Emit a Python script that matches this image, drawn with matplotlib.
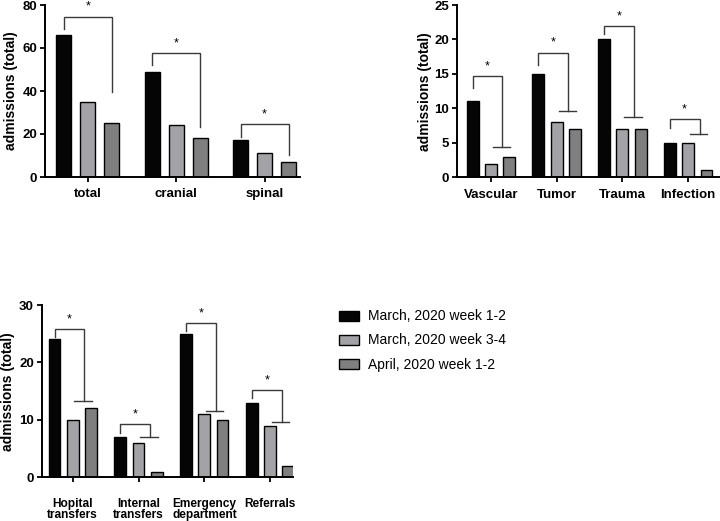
import matplotlib
matplotlib.use("Agg")
import matplotlib.pyplot as plt
import numpy as np
from matplotlib.patches import Patch

plt.rcParams['font.family'] = ['Liberation Sans', 'DejaVu Sans']

series = ["March, 2020 week 1-2", "March, 2020 week 3-4", "April, 2020 week 1-2"]
colors = ["#050505", "#a3a3a7", "#7f7f7f"]

# Panel 1
cats1 = ["total", "cranial", "spinal"]
p1_w12 = [66, 49, 17]
p1_w34 = [35, 24, 11]
p1_apr = [25, 18, 7]
# significance brackets: left-leg end, top level, right-leg end
sig1_left = [69, 52, 18.7]
sig1_top = [74.6, 57.8, 24.5]
sig1_right = [39.5, 23.4, 10.2]

# Panel 2
cats2 = ["Vascular", "Tumor", "Trauma", "Infection"]
p2_w12 = [11, 15, 20, 5]
p2_w34 = [2, 8, 7, 5]
p2_apr = [3, 7, 7, 1]
sig2_left = [12.95, 16.3, 20.75, 7.15]
sig2_top = [14.7, 18.1, 21.95, 8.4]
sig2_right = [4.35, 9.66, 8.7, 6.3]

# Panel 3
cats3 = ["Hopital\ntransfers", "Internal\ntransfers", "Emergency\ndepartment", "Referrals"]
p3_w12 = [24, 7, 25, 13]
p3_w34 = [10, 6, 11, 9]
p3_apr = [12, 1, 10, 2]
sig3_left = [24.5, 7.77, 25.5, 13.86]
sig3_top = [25.8, 9.2, 26.8, 15.2]
sig3_right = [13.3, 6.96, 11.6, 9.68]

W, H = 720, 521
fig = plt.figure(figsize=(W / 100, H / 100), dpi=100)

line_c = "#3a3a3a"


def panel(rect, cats, vals, ylim, yticks, xlim, off, bw, sl, st, sr, tee, label_pad, ylab_x, xfs, ls):
    ax = fig.add_axes(rect)
    x = np.arange(len(cats))
    for i, (v, c) in enumerate(zip(vals, colors)):
        ax.bar(x + (i - 1) * off, v, width=bw, color=c, edgecolor="black", linewidth=1.0, zorder=2)
    ax.set_xlim(*xlim)
    ax.set_ylim(*ylim)
    ax.set_yticks(yticks)
    ax.set_xticks(x)
    ax.set_xticklabels(cats, fontweight="bold", fontsize=xfs, linespacing=ls)
    for t in ax.get_yticklabels():
        t.set_fontweight("bold")
        t.set_fontsize(9.5)
    ax.tick_params(axis="both", length=3.6, width=1.3, color="black")
    ax.tick_params(axis="x", pad=label_pad)
    ax.tick_params(axis="y", pad=2)
    for s in ["top", "right"]:
        ax.spines[s].set_visible(False)
    for s in ["left", "bottom"]:
        ax.spines[s].set_linewidth(1.4)
    ax.set_ylabel("admissions (total)", fontweight="bold", fontsize=10)
    ax.yaxis.set_label_coords(ylab_x, 0.5)
    span = ylim[1] - ylim[0]
    for j in range(len(cats)):
        xl = x[j] - off
        xr = x[j] + off
        if tee:
            xr = x[j] + off * 0.62
        ax.plot([xl, xl, xr, xr], [sl[j], st[j], st[j], sr[j]], color=line_c, lw=1.0, zorder=3,
                solid_joinstyle="miter")
        if tee:
            ax.plot([x[j] + off * 0.1, x[j] + off * 1.05], [sr[j], sr[j]], color=line_c, lw=1.0, zorder=3)
        ax.text((xl + xr) / 2, st[j] + span * 0.022, "*", ha="center", va="bottom", fontsize=9)
    return ax


panel([45 / W, 1 - 177 / H, 255 / W, 172 / H], cats1, [p1_w12, p1_w34, p1_apr],
      (0, 80), [0, 20, 40, 60, 80], (-0.486, 2.40), 0.272, 0.17,
      sig1_left, sig1_top, sig1_right, False, 4.5, -0.106, 9.5, 1.0)

panel([456.7 / W, 1 - 177.3 / H, 262.3 / W, 172.3 / H], cats2, [p2_w12, p2_w34, p2_apr],
      (0, 25), [0, 5, 10, 15, 20, 25], (-0.522, 3.47), 0.28, 0.18,
      sig2_left, sig2_top, sig2_right, True, 4.5, -0.094, 9.5, 1.0)

panel([41.7 / W, 1 - 477.3 / H, 251 / W, 172.3 / H], cats3, [p3_w12, p3_w34, p3_apr],
      (0, 30), [0, 10, 20, 30], (-0.47, 3.34), 0.275, 0.18,
      sig3_left, sig3_top, sig3_right, True, 11, -0.106, 8.6, 0.93)

handles = [Patch(facecolor=c, edgecolor="black", linewidth=1.0) for c in colors]
fig.legend(handles, series, loc="upper left", bbox_to_anchor=(326 / W, 1 - 297 / H),
           frameon=False, fontsize=10, handlelength=1.45, handleheight=0.72,
           handletextpad=0.7, labelspacing=0.72, borderpad=0.4)

fig.savefig("out.png", dpi=100)
